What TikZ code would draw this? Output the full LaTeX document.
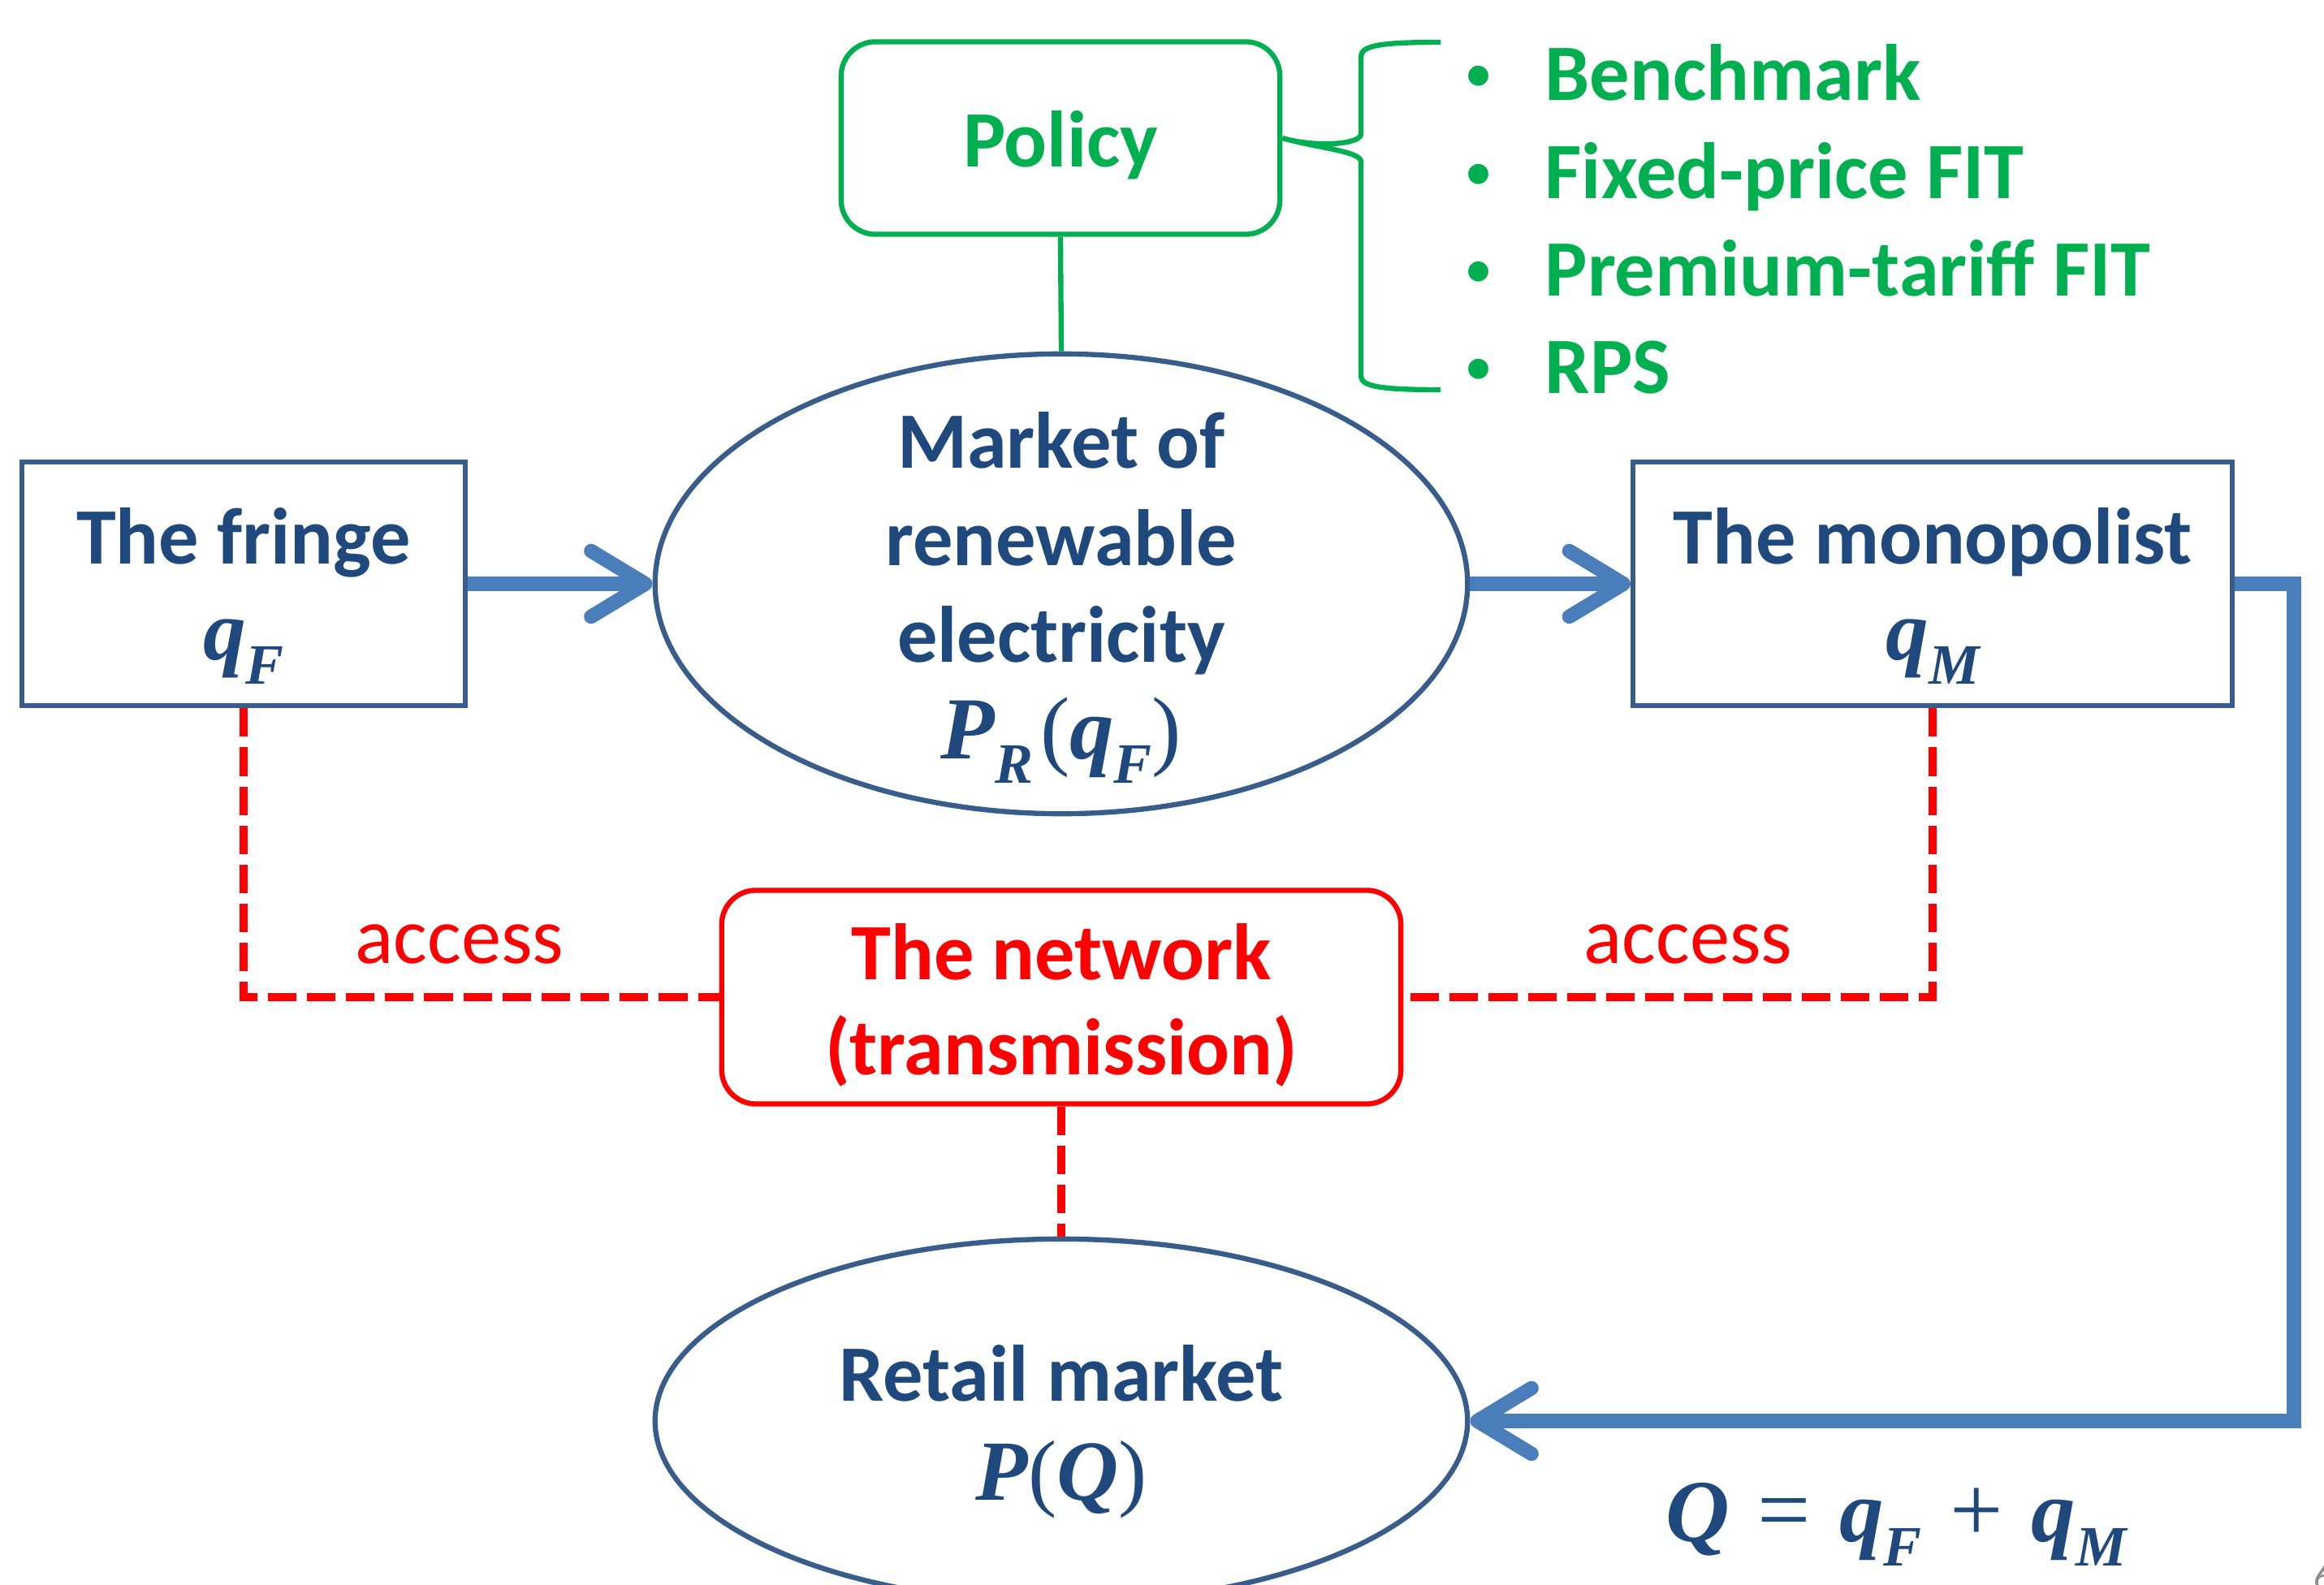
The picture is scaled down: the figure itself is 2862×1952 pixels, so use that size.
\documentclass[tikz,border=0pt]{standalone}
\usepackage{fontspec}
\setmainfont{Carlito}
\newfontfamily\eqfont{Liberation Serif}
\usetikzlibrary{arrows.meta,shapes.geometric}

\definecolor{navytext}{HTML}{1F497D}
\definecolor{navyline}{HTML}{385D8A}
\definecolor{flowblue}{HTML}{4A7EBB}
\definecolor{policygreen}{HTML}{00B050}
\definecolor{netred}{HTML}{FF0000}
\definecolor{pagegray}{HTML}{8C8C8C}

% bold italic variables, upright operators and lowered subscripts
\newcommand\vv[1]{{\eqfont\bfseries\itshape #1}}
\newcommand\sv[1]{\raisebox{-0.28em}{\fontsize{20}{20}\selectfont\vv{#1}}}
\newcommand\op[1]{{\eqfont #1}}
\newcommand\bin[1]{\hspace{0.32em}{\fontsize{33}{34}\selectfont\op{#1}}\hspace{0.32em}}

\begin{document}
\begin{tikzpicture}[x=0.01cm,y=-0.01cm,
  bigtext/.style={font=\fontsize{28}{34}\selectfont\bfseries, inner sep=0pt},
  eqtext/.style={font=\fontsize{30}{34}\selectfont, inner sep=0pt, text=navytext},
  dotmark/.style={font=\fontsize{20}{20}\selectfont, inner sep=0pt, text=policygreen},
  agentbox/.style={draw=navyline, line width=1.8pt, inner sep=0pt},
  marketshape/.style={ellipse, draw=navyline, line width=1.8pt, inner sep=0pt},
  roundbox/.style={rounded corners=12pt, line width=1.8pt, inner sep=0pt},
  flow/.style={draw=flowblue, line width=5pt,
    -{Straight Barb[length=19pt, width=23pt, round]}},
  accessline/.style={draw=netred, line width=3pt, dash pattern=on 10pt off 3.7pt},
  policyline/.style={draw=policygreen, line width=1.8pt}
]
\useasboundingbox (0,0) rectangle (2862,1952);

% ---- shapes ----
\node[roundbox, draw=policygreen, minimum width=5.40cm, minimum height=2.37cm]
  (policy) at (1306,170) {};
\node[agentbox, minimum width=5.46cm, minimum height=3.00cm] (fringe) at (300,719) {};
\node[agentbox, minimum width=7.37cm, minimum height=3.00cm] (mono) at (2380,719) {};
\node[marketshape, minimum width=10cm, minimum height=5.66cm] (market) at (1307,719) {};
\node[roundbox, draw=netred, minimum width=8.36cm, minimum height=2.63cm]
  (net) at (1307,1228) {};
\node[marketshape, minimum width=10cm, minimum height=4.48cm] (retail) at (1307,1750) {};

% ---- labels ----
\node[bigtext, text=policygreen, anchor=base] (policyT) at (1306,206) {Policy};

\node[bigtext, text=navytext, anchor=base] (fringeT) at (300,695) {The fringe};
\node[eqtext, anchor=base] (fringeQ) at (300,813) {\vv{q}\sv{F}};

\node[bigtext, text=navytext, anchor=base] (monoT) at (2380,695) {The monopolist};
\node[eqtext, anchor=base] (monoQ) at (2380,813) {\vv{q}\sv{M}};

\node[bigtext, text=navytext, anchor=base] (mkt1) at (1307,577) {Market of};
\node[bigtext, text=navytext, anchor=base] (mkt2) at (1307,697) {renewable};
\node[bigtext, text=navytext, anchor=base] (mkt3) at (1307,816) {electricity};
\node[eqtext, font=\fontsize{31}{34}\selectfont, anchor=base] (mktP) at (1307,934)
  {\vv{P}\sv{R}\hspace{0.08em}\op{(}\vv{q}\sv{F}\op{)}};

\node[bigtext, text=netred, anchor=base] (net1) at (1307,1206) {The network};
\node[bigtext, text=netred, anchor=base] (net2) at (1307,1323) {(transmission)};

\node[bigtext, text=navytext, anchor=base] (ret1) at (1307,1725) {Retail market};
\node[eqtext, anchor=base] (retP) at (1307,1847) {\vv{P}\op{(}\vv{Q}\op{)}};

\node[eqtext, font=\fontsize{31}{34}\selectfont, anchor=base] (total) at (2335,1898)
  {\vv{Q}\bin{=}\vv{q}\sv{F}\bin{+}\vv{q}\sv{M}};

\node[font=\fontsize{28}{34}\selectfont, text=netred, inner sep=0pt, anchor=base]
  (accL) at (566,1186) {access};
\node[font=\fontsize{28}{34}\selectfont, text=netred, inner sep=0pt, anchor=base]
  (accR) at (2079,1186) {access};

% policy options
\foreach \y/\t [count=\i] in {124/Benchmark, 245/Fixed-price FIT,
    365/Premium-tariff FIT, 485/RPS} {
  \node[dotmark, anchor=base] (dot\i) at (1821,\y-10) {•};
  \node[bigtext, text=policygreen, anchor=base west] (opt\i) at (1902,\y) {\t};
}

% page number in the corner
\node[font=\fontsize{13}{13}\selectfont, text=pagegray, inner sep=0pt, anchor=base west]
  (pagenum) at (2849,1958) {6};

% ---- connectors ----
\draw[policyline] (policy.south) -- (market.north);
\draw[policyline]
  (1774,52) .. controls (1700,52) and (1676,56) .. (1676,70)
  -- (1676,165) .. controls (1676,178) and (1620,182) .. (policy.east)
  .. controls (1620,182) and (1676,186) .. (1676,199)
  -- (1676,463) .. controls (1676,476) and (1700,480) .. (1774,480);

\draw[flow] (fringe.east) -- (market.west);
\draw[flow] (market.east) -- (mono.west);
\coordinate (bend) at (2825,719);
\draw[flow] (mono.east) -- (bend) |- (retail.east);

\draw[accessline] (fringe.south) |- (net.west);
\draw[accessline] (mono.south) |- (net.east);
\draw[accessline] (net.south) -- (retail.north);
\end{tikzpicture}
\end{document}
